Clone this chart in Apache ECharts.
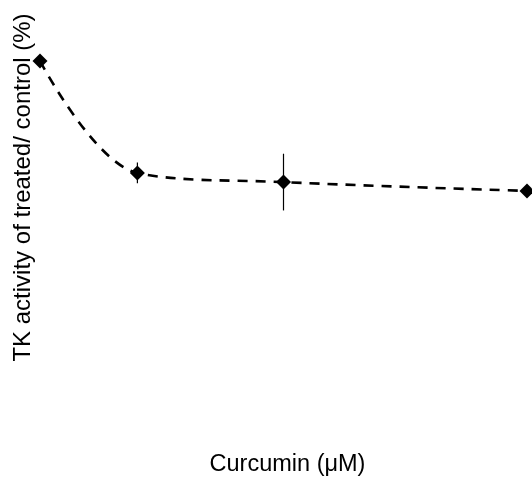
<!DOCTYPE html>
<html>
<head>
<meta charset="utf-8">
<script src="https://cdn.jsdelivr.net/npm/echarts@6/dist/echarts.min.js"></script>
<style>
html,body{margin:0;padding:0;background:#fff;}
#chart{width:532px;height:479px;}
</style>
</head>
<body>
<div id="chart"></div>
<script>
var concentrations = [0, 2, 5, 10];
var activity = [100, 63.3, 60.3, 57.4];
var errors = [0, 3.4, 9.3, 0];
var xTitle = 'Curcumin (μM)';
var yTitle = 'TK activity of treated/ control (%)';

var chart = echarts.init(document.getElementById('chart'));
var pts = concentrations.map(function (c, i) { return [c, activity[i]]; });
var errData = concentrations.map(function (c, i) { return [c, activity[i] - errors[i], activity[i] + errors[i]]; });
var font = 'Liberation Sans, Arial, sans-serif';

chart.setOption({
  animation: false,
  backgroundColor: '#ffffff',
  textStyle: { fontFamily: font },
  grid: { left: 40, right: 5, top: 0, bottom: 113, outerBoundsMode: 'none', containLabel: false },
  graphic: [
    {
      type: 'text', x: 287.5, y: 465,
      style: { text: xTitle, fontSize: 23.5, fontFamily: font, fill: '#000', align: 'center', verticalAlign: 'middle' }
    },
    {
      type: 'text', x: 23, y: 187.5, rotation: Math.PI / 2,
      style: { text: yTitle, fontSize: 24, fontFamily: font, fill: '#000', align: 'center', verticalAlign: 'middle' }
    }
  ],
  xAxis: {
    type: 'value', min: 0, max: 10,
    axisLine: { show: false }, axisTick: { show: false }, axisLabel: { show: false }, splitLine: { show: false }
  },
  yAxis: {
    type: 'value', min: 0, max: 120,
    axisLine: { show: false }, axisTick: { show: false }, axisLabel: { show: false }, splitLine: { show: false }
  },
  series: [
    {
      type: 'line', data: pts, smooth: 0.35,
      symbol: 'diamond', symbolSize: 15,
      itemStyle: { color: '#000' },
      lineStyle: { color: '#000', width: 2.6, type: [10, 8] },
      clip: false, z: 3
    },
    {
      type: 'custom', data: errData, z: 2,
      renderItem: function (params, api) {
        var x = api.value(0);
        var lo = api.coord([x, api.value(1)]);
        var hi = api.coord([x, api.value(2)]);
        return {
          type: 'line',
          shape: { x1: lo[0], y1: lo[1], x2: hi[0], y2: hi[1] },
          style: { stroke: '#000', lineWidth: 1.2 }
        };
      }
    }
  ]
});
</script>
</body>
</html>
